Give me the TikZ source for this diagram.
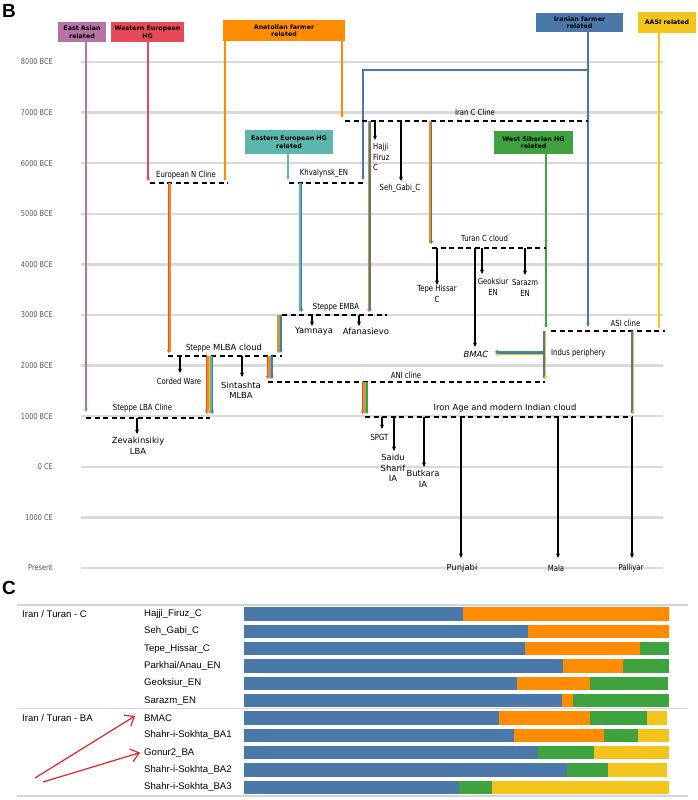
\documentclass[tikz,border=0pt]{standalone}
\usepackage{fontspec}
\setmainfont{DejaVu Sans}
\newfontfamily\dvN{DejaVu Sans}
\newfontfamily\dvC{DejaVu Sans}[FakeStretch=0.82]
\newfontfamily\libS{Liberation Sans}
\usetikzlibrary{arrows.meta}
\definecolor{cBlue}{HTML}{4A78A8}
\definecolor{cOrange}{HTML}{FF8C00}
\definecolor{cGreen}{HTML}{3EA33E}
\definecolor{cYellow}{HTML}{F3C51C}
\definecolor{cPurple}{HTML}{B673A4}
\definecolor{cRed}{HTML}{E84858}
\definecolor{cTeal}{HTML}{5CB6AE}
\definecolor{cArrowRed}{HTML}{E02424}
\definecolor{gridGray}{HTML}{D9D9D9}
\definecolor{ruleGray}{HTML}{D4D4D4}
\definecolor{yearGray}{HTML}{555555}
\newcommand\fNorm{\dvN\fontsize{8.4}{10.5}\selectfont}
\newcommand\fCond{\dvC\fontsize{8.4}{10.5}\selectfont}
\newcommand\fHead{\dvN\bfseries\fontsize{6.3}{7.6}\selectfont}
\newcommand\fTab{\libS\fontsize{9.6}{11}\selectfont}
\newcommand\fYear{\dvC\fontsize{8}{10}\selectfont}
\newcommand\fPanel{\libS\bfseries\fontsize{19}{20}\selectfont}
\newcommand\vband[4]{\foreach \bcol [count=\bidx] in {#4}{\draw[band,\bcol] ({#1+(\bidx-1)*1.5},#2) -- ({#1+(\bidx-1)*1.5},#3);}}
\newcommand\cbar[5]{%
  \fill[cBlue] (244,{#1-6.7}) rectangle (#2,{#1+6.7});
  \fill[cOrange] (#2,{#1-6.7}) rectangle (#3,{#1+6.7});
  \fill[cGreen] (#3,{#1-6.7}) rectangle (#4,{#1+6.7});
  \fill[cYellow] (#4,{#1-6.7}) rectangle (#5,{#1+6.7});}
\begin{document}
\begin{tikzpicture}[x=1pt,y=-1pt,
 gridln/.style={line width=2.4pt,color=gridGray},
 yearlbl/.style={font=\fYear,text=yearGray,inner sep=0pt,anchor=east},
 hdr/.style={font=\fHead,align=center,inner sep=0pt,text=black},
 lblN/.style={font=\fNorm,align=center,inner sep=0pt},
 lblC/.style={font=\fCond,align=center,inner sep=0pt},
 tabl/.style={font=\fTab,inner sep=0pt,anchor=west},
 cline/.style={line width=1.4pt,dash pattern=on 5pt off 3.6pt},
 barr/.style={line width=1.1pt,-{Stealth[length=4.5pt,width=4pt]}},
 carr/.style={line width=1.2pt,-{Stealth[length=3.8pt,width=3.3pt]}},
 band/.style={line width=1.5pt,-{Stealth[length=3.5pt,width=3.2pt]}},
 rule/.style={line width=1.3pt,color=ruleGray},
 redarr/.style={line width=1.2pt,color=cArrowRed,-{Straight Barb[length=8pt,width=13pt]}},
]
\useasboundingbox (0,0) rectangle (698,800);
\node[font=\fPanel,anchor=north west,inner sep=0pt] (pB) at (2,4) {B};
\node[font=\fPanel,anchor=north west,inner sep=0pt] (pC) at (2,581) {C};
% grid
\foreach \k/\t in {0/8000 BCE,1/7000 BCE,2/6000 BCE,3/5000 BCE,4/4000 BCE,5/3000 BCE,6/2000 BCE,7/1000 BCE,8/0 CE,9/1000 CE,10/Present}{
  \draw[gridln] (81,{62+50.6*\k}) -- (663,{62+50.6*\k});
  \node[yearlbl] (yr\k) at (53,{62+50.6*\k}) {\t};
}
% headers
\node[hdr,fill=cPurple,minimum width=48pt,minimum height=20pt] (ea) at (82,32) {East Asian\\related};
\node[hdr,fill=cRed,minimum width=73pt,minimum height=20pt] (weh) at (147.5,32) {Western European\\HG};
\node[hdr,fill=cOrange,minimum width=122pt,minimum height=21pt] (ana) at (284,30.5) {Anatolian farmer\\related};
\node[hdr,fill=cBlue,minimum width=87pt,minimum height=19pt] (ira) at (579.5,22.5) {Iranian farmer\\related};
\node[hdr,fill=cYellow,minimum width=58pt,minimum height=21pt] (aasi) at (667,22.5) {AASI related};
\node[hdr,fill=cTeal,minimum width=88pt,minimum height=24pt] (eeh) at (289,142) {Eastern European HG\\related};
\node[hdr,fill=cGreen,minimum width=79pt,minimum height=23pt] (wsh) at (533.5,142.5) {West Siberian HG\\related};
% header arrows
\draw[carr,cPurple] (86,42) -- (86,412);
\draw[carr,cRed] (148,42) -- (148,181);
\draw[carr,cOrange] (225,41) -- (225,181);
\draw[carr,cOrange] (342,41) -- (342,118);
\draw[carr,cBlue] (588,32) -- (588,327);
\draw[carr,cBlue] (588,32) -- (588,119);
\draw[carr,cBlue] (588,70) -- (363,70) -- (363,180);
\draw[carr,cYellow] (659,33) -- (659,329);
\draw[carr,cTeal] (288,154) -- (288,180);
\draw[carr,cGreen] (546,154) -- (546,328);
\draw[carr,cGreen] (546,154) -- (546,244);
% clines
\draw[cline] (150,183) -- (228,183);
\node[lblC] (eun) at (186,175) {European N Cline};
\draw[cline] (289,183) -- (365,183);
\node[lblC] (khv) at (324,173) {Khvalynsk\_EN};
\draw[cline] (345,121) -- (588,121);
\node[lblC] (iranc) at (475,112) {Iran C Cline};
\draw[cline] (432,248) -- (546,248);
\node[lblC] (turan) at (484.5,238) {Turan C cloud};
\draw[cline] (282,315) -- (387,315);
\node[lblC] (emba) at (336,307) {Steppe EMBA};
\draw[cline] (168,356) -- (282,356);
\node[lblN] (mlba) at (224,347.7) {{\fCond Steppe} MLBA cloud};
\draw[cline] (268,382) -- (545,382);
\node[lblC] (ani) at (406,375) {ANI cline};
\draw[cline] (551,331) -- (665,331);
\node[lblC] (asi) at (625.5,323) {ASI cline};
\draw[cline] (365,417) -- (633,417);
\node[lblN] (iron) at (505,408) {Iron Age and modern Indian cloud};
\draw[cline] (86,418) -- (210,418);
\node[lblC] (lba) at (142.5,408) {Steppe LBA Cline};
% coloured bands
\vband{168.5}{183}{353}{cRed,cOrange}
\vband{300}{183}{312}{cTeal,cBlue}
\vband{368.5}{121}{312}{cOrange,cBlue}
\vband{430}{121}{244}{cOrange,cBlue}
\vband{278}{315}{353}{cOrange,cTeal,cBlue}
\vband{206.5}{356}{414}{cRed,cOrange,cYellow,cTeal,cBlue}
\vband{267.5}{356}{379}{cRed,cOrange,cTeal,cBlue}
\vband{362.5}{382}{414}{cRed,cOrange,cTeal,cGreen}
\vband{544}{331}{379}{cBlue,cYellow}
\vband{632}{331}{414}{cBlue,cYellow}
\foreach \bcol [count=\bidx] in {cGreen,cBlue,cYellow}{\draw[band,\bcol] (543,{349.8+\bidx*1.6}) -- (495,{349.8+\bidx*1.6});}
\node[lblC,anchor=west] (indus) at (551,353) {Indus periphery};
% black child arrows
\draw[barr] (372,121) -- (375,121) -- (375,140);
\node[lblC,anchor=north west,align=left] (hajji) at (373,143) {Hajji\\Firuz\\C};
\draw[barr] (401,121) -- (401,181);
\node[lblC] (seh) at (400,188.5) {Seh\_Gabi\_C};
\draw[barr] (437,248) -- (437,285);
\node[lblC] (tepe) at (437,294) {Tepe Hissar\\C};
\draw[barr] (482,248) -- (482,274);
\node[lblC] (geok) at (493,287) {Geoksiur\\EN};
\draw[barr] (525,248) -- (525,275);
\node[lblC] (saraz) at (525,288) {Sarazm\\EN};
\draw[barr] (475,248) -- (475,347);
\node[lblN,font=\fNorm\itshape] (bmac) at (476,354.5) {BMAC};
\draw[barr] (312,315) -- (312,326);
\node[lblN] (yam) at (314,331) {Yamnaya};
\draw[barr] (359,315) -- (359,326);
\node[lblN] (afa) at (366,331) {Afanasievo};
\draw[barr] (180,356) -- (180,373);
\node[lblC] (cord) at (179,381) {Corded Ware};
\draw[barr] (242,356) -- (242,377);
\node[lblN] (sint) at (241,390.5) {Sintashta\\MLBA};
\draw[barr] (137,418) -- (137,434);
\node[lblN] (zev) at (138,446) {Zevakinsikiy\\LBA};
\draw[barr] (382,417) -- (382,429);
\node[lblC] (spgt) at (379.5,437) {SPGT};
\draw[barr] (394,417) -- (394,451);
\node[lblN] (saidu) at (393,468) {Saidu\\Sharif\\IA};
\draw[barr] (424,417) -- (424,467);
\node[lblN] (butk) at (423,479) {Butkara\\IA};
\draw[barr] (461,417) -- (461,558);
\node[lblN] (punj) at (462,568) {Punjabi};
\draw[barr] (558,417) -- (558,558);
\node[lblC] (mala) at (556,568) {Mala};
\draw[barr] (632,417) -- (632,558);
\node[lblC] (pall) at (631,568) {Palliyar};
% panel C
\draw[rule] (17,605) -- (688,605);
\draw[rule] (17,708.3) -- (688,708.3);
\draw[rule] (17,796) -- (688,796);
\node[tabl] (gC) at (22,614) {Iran / Turan - C};
\node[tabl] (gBA) at (22,717.7) {Iran / Turan - BA};
\foreach \nm [count=\r] in {Hajji\_Firuz\_C,Seh\_Gabi\_C,Tepe\_Hissar\_C,Parkhai/Anau\_EN,Geoksiur\_EN,Sarazm\_EN,BMAC,Shahr-i-Sokhta\_BA1,Gonur2\_BA,Shahr-i-Sokhta\_BA2,Shahr-i-Sokhta\_BA3}{
  \node[tabl] (s\r) at (144,{614+17.33*(\r-1)}) {\nm};
}
\cbar{614}{463}{669}{669}{669}
\cbar{631.3}{528}{669}{669}{669}
\cbar{648.7}{525}{640}{669}{669}
\cbar{666}{563}{623}{669}{669}
\cbar{683.3}{517}{590}{668}{668}
\cbar{700.7}{562}{573}{669}{669}
\cbar{718}{499}{590}{647}{667}
\cbar{735.3}{514}{604}{638}{669}
\cbar{752.6}{538}{538}{594}{669}
\cbar{770}{567}{567}{608}{667}
\cbar{787.3}{459}{459}{492}{669}
\coordinate (r1) at (35,778);
\coordinate (r2) at (43,782);
\draw[redarr] (r1) -- ([xshift=-9pt,yshift=2pt]s7.west);
\draw[redarr] (r2) -- ([xshift=-4pt]s9.west);
\end{tikzpicture}
\end{document}
